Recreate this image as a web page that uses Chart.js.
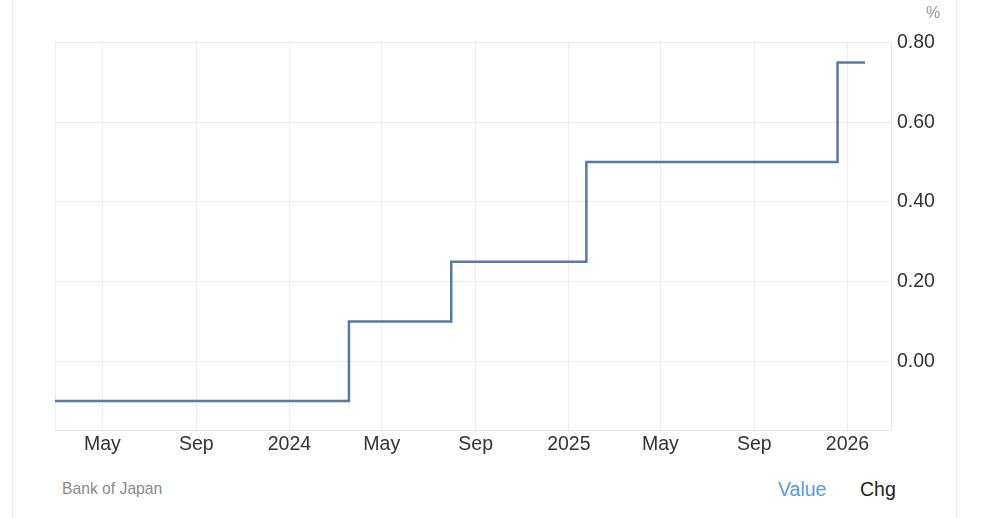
<!DOCTYPE html>
<html>
<head>
<meta charset="utf-8">
<script src="https://cdn.jsdelivr.net/npm/chart.js@4/dist/chart.umd.min.js"></script>
<style>
  body { margin: 0; background: #fff; font-family: "Liberation Sans", Arial, sans-serif; }
  #wrap { position: relative; width: 1000px; height: 518px; overflow: hidden; }
  #card { position: absolute; left: 12px; top: 0; width: 943px; height: 518px;
          border-left: 1px solid #ececec; border-right: 1px solid #ececec; }
  #box { position: absolute; left: 0; top: 0; width: 1000px; height: 470px; }
  .txt { position: absolute; white-space: nowrap; }
</style>
</head>
<body>
<div id="wrap">
  <div id="card"></div>
  <div id="box"><canvas id="mychart"></canvas></div>
  <div class="txt" style="left:926px; top:4px; font-size:16px; color:#999;">%</div>
  <div class="txt" style="left:62px; top:480px; font-size:15.7px; color:#8a8a8a;">Bank of Japan</div>
  <div class="txt" style="left:778px; top:478px; font-size:19.5px; color:#5b9bd8;">Value</div>
  <div class="txt" style="left:860px; top:478px; font-size:19.5px; color:#222;">Chg</div>
</div>
<script>
// BoJ policy rate, changes at meeting dates
const rateDates = ["2023-02-28", "2024-03-19", "2024-07-31", "2025-01-24", "2025-12-19", "2026-01-24"];
const rateValues = [-0.1, 0.1, 0.25, 0.5, 0.75, 0.75];

const tickDates = ["2023-05-01", "2023-09-01", "2024-01-01", "2024-05-01", "2024-09-01",
                   "2025-01-01", "2025-05-01", "2025-09-01", "2026-01-01"];
const tickLabels = ["May", "Sep", "2024", "May", "Sep", "2025", "May", "Sep", "2026"];

const yTicks = [0, 0.2, 0.4, 0.6, 0.8];

const toMs = (d) => Date.parse(d + "T00:00:00Z");
const xMin = toMs("2023-02-28");
const xMax = toMs("2026-02-27");

const points = rateDates.map((d, i) => ({ x: toMs(d), y: rateValues[i] }));
const tickMs = tickDates.map(toMs);

const gridColor = "#ededed";
const tickFont = { family: "'Liberation Sans', Arial, sans-serif", size: 19.5 };

const ctx = document.getElementById("mychart").getContext("2d");
new Chart(ctx, {
  type: "line",
  data: {
    datasets: [
      {
        data: points,
        borderColor: "rgb(88, 123, 166)",
        borderWidth: 2.5,
        pointRadius: 0,
        stepped: true,
        fill: false,
      },
    ],
  },
  options: {
    responsive: true,
    maintainAspectRatio: false,
    animation: false,
    layout: { padding: { left: 55, top: 42.5, right: 0, bottom: 0 } },
    plugins: { legend: { display: false }, tooltip: { enabled: false } },
    scales: {
      x: {
        type: "linear",
        min: xMin,
        max: xMax,
        afterBuildTicks: (axis) => {
          axis.ticks = [{ value: xMin }].concat(tickMs.map((v) => ({ value: v })));
        },
        afterFit: (axis) => { axis.height = 40; },
        ticks: {
          autoSkip: false,
          maxRotation: 0,
          padding: 3,
          color: "#333",
          font: tickFont,
          callback: (v) => {
            const i = tickMs.indexOf(v);
            return i >= 0 ? tickLabels[i] : "";
          },
        },
        grid: { color: gridColor, drawTicks: false },
        border: { color: "#e4e4e4" },
      },
      y: {
        position: "right",
        min: -0.1725,
        max: 0.8,
        afterBuildTicks: (axis) => {
          axis.ticks = yTicks.map((v) => ({ value: v }));
        },
        afterFit: (axis) => { axis.width = 109; },
        ticks: {
          padding: 6,
          color: "#333",
          font: tickFont,
          callback: (v) => v.toFixed(2),
        },
        grid: { color: gridColor, drawTicks: false },
        border: { color: "#e4e4e4" },
      },
    },
  },
});
</script>
</body>
</html>
